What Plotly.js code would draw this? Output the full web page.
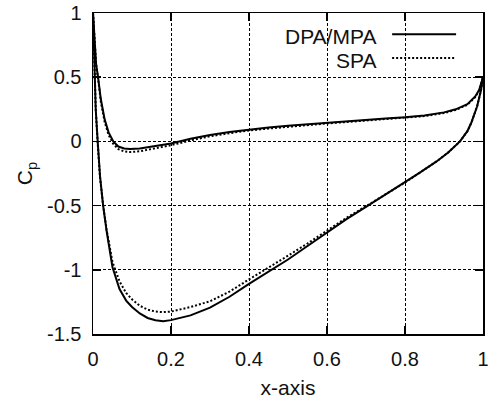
<!DOCTYPE html>
<html>
<head>
<meta charset="utf-8">
<script src="https://cdn.plot.ly/plotly-3.0.1.min.js"></script>
<style>html,body{margin:0;padding:0;background:#fff;}#chart{width:489px;height:406px;}</style>
</head>
<body>
<div id="chart"></div>
<script>
// Lower surface, DPA/MPA (solid)
const xLowerDPA = [0, 0.003, 0.007, 0.012, 0.018, 0.026, 0.035, 0.05, 0.068, 0.085, 0.1, 0.12, 0.14, 0.16, 0.18, 0.2, 0.22, 0.25, 0.3, 0.35, 0.4, 0.45, 0.5, 0.55, 0.6, 0.65, 0.7, 0.75, 0.8, 0.838, 0.88, 0.91, 0.941, 0.96, 0.97, 0.985, 0.995, 1.0];
const cpLowerDPA = [1.0, 0.6, 0.25, 0.0, -0.27, -0.5, -0.7, -0.98, -1.15, -1.24, -1.29, -1.34, -1.375, -1.393, -1.4, -1.392, -1.378, -1.355, -1.295, -1.21, -1.11, -1.015, -0.92, -0.815, -0.71, -0.605, -0.51, -0.415, -0.32, -0.243, -0.158, -0.088, 0.0, 0.08, 0.145, 0.274, 0.4, 0.5];
// Lower surface, SPA (dotted)
const xLowerSPA = [0, 0.003, 0.007, 0.012, 0.018, 0.026, 0.035, 0.05, 0.068, 0.085, 0.1, 0.12, 0.14, 0.16, 0.18, 0.2, 0.22, 0.25, 0.3, 0.35, 0.4, 0.45, 0.5, 0.55, 0.6, 0.65, 0.7, 0.75, 0.8, 0.838, 0.88, 0.91, 0.941, 0.96, 0.97, 0.985, 0.995, 1.0];
const cpLowerSPA = [1.0, 0.6, 0.25, -0.01, -0.28, -0.5, -0.69, -0.94, -1.09, -1.18, -1.23, -1.28, -1.31, -1.325, -1.33, -1.325, -1.31, -1.29, -1.245, -1.17, -1.075, -0.985, -0.89, -0.795, -0.695, -0.595, -0.505, -0.415, -0.32, -0.243, -0.158, -0.088, 0.0, 0.08, 0.145, 0.274, 0.4, 0.5];
// Upper surface, DPA/MPA (solid)
const xUpperDPA = [0, 0.004, 0.008, 0.013, 0.02, 0.03, 0.04, 0.052, 0.065, 0.08, 0.095, 0.12, 0.15, 0.2, 0.25, 0.3, 0.35, 0.4, 0.45, 0.5, 0.55, 0.6, 0.65, 0.7, 0.75, 0.8, 0.85, 0.9, 0.93, 0.96, 0.98, 0.99, 1.0];
const cpUpperDPA = [1.0, 0.75, 0.6, 0.5, 0.33, 0.17, 0.07, 0.0, -0.04, -0.055, -0.06, -0.055, -0.04, -0.016, 0.02, 0.05, 0.073, 0.093, 0.108, 0.122, 0.134, 0.145, 0.157, 0.168, 0.178, 0.188, 0.202, 0.226, 0.25, 0.29, 0.35, 0.4, 0.5];
// Upper surface, SPA (dotted)
const xUpperSPA = [0, 0.004, 0.008, 0.013, 0.02, 0.03, 0.04, 0.052, 0.065, 0.08, 0.095, 0.12, 0.15, 0.2, 0.25, 0.3, 0.35, 0.4, 0.45, 0.5, 0.55, 0.6, 0.65, 0.7, 0.75, 0.8, 0.85, 0.9, 0.93, 0.96, 0.98, 0.99, 1.0];
const cpUpperSPA = [1.0, 0.75, 0.6, 0.49, 0.31, 0.15, 0.05, -0.02, -0.06, -0.078, -0.083, -0.077, -0.06, -0.03, 0.008, 0.04, 0.064, 0.085, 0.1, 0.115, 0.128, 0.14, 0.151, 0.162, 0.172, 0.183, 0.197, 0.221, 0.245, 0.285, 0.345, 0.395, 0.5];

const xTickVals = [0, 0.2, 0.4, 0.6, 0.8, 1];
const xTickText = ["0", "0.2", "0.4", "0.6", "0.8", "1"];
const yTickVals = [-1.5, -1, -0.5, 0, 0.5, 1];
const yTickText = ["-1.5", "-1", "-0.5", "0", "0.5", "1"];
const seriesNames = ["DPA/MPA", "SPA"];

const solid = {color: "#000", width: 2, dash: "solid"};
const dotted = {color: "#000", width: 2, dash: "2px,2px"};

const traces = [
  {x: xLowerDPA, y: cpLowerDPA, mode: "lines", line: solid, name: seriesNames[0], showlegend: false},
  {x: xUpperDPA, y: cpUpperDPA, mode: "lines", line: solid, name: seriesNames[0], showlegend: false},
  {x: xLowerSPA, y: cpLowerSPA, mode: "lines", line: dotted, name: seriesNames[1], showlegend: false},
  {x: xUpperSPA, y: cpUpperSPA, mode: "lines", line: dotted, name: seriesNames[1], showlegend: false}
];

const fontFam = "Liberation Sans, Arial, sans-serif";
const txtColor = "#111";
const axisCommon = {
  showgrid: true, gridcolor: "#000", gridwidth: 1, griddash: "3px,2px",
  zeroline: false, showline: true, linecolor: "#000", linewidth: 1.5, mirror: "ticks",
  ticks: "inside", ticklen: 8, tickwidth: 1.5, tickcolor: "#000",
  tickfont: {family: fontFam, size: 20, color: txtColor}
};

const layout = {
  width: 489, height: 406,
  margin: {l: 93, r: 6, t: 13, b: 72},
  paper_bgcolor: "#fff", plot_bgcolor: "#fff",
  showlegend: false,
  xaxis: Object.assign({}, axisCommon, {
    range: [0, 1], tickmode: "array", tickvals: xTickVals, ticktext: xTickText,
    ticklabelstandoff: 6,
    title: {text: "x-axis", font: {family: fontFam, size: 21, color: txtColor}, standoff: 12}
  }),
  yaxis: Object.assign({}, axisCommon, {
    range: [-1.5, 1], tickmode: "array", tickvals: yTickVals, ticktext: yTickText,
    ticklabelstandoff: 6,
    title: {text: "C<sub>p</sub>", font: {family: fontFam, size: 21, color: txtColor}, standoff: 8}
  }),
  annotations: [
    {xref: "paper", yref: "paper", x: 0.73, y: 0.928, xanchor: "right", yanchor: "middle",
     text: seriesNames[0], showarrow: false, font: {family: fontFam, size: 21, color: txtColor}},
    {xref: "paper", yref: "paper", x: 0.73, y: 0.852, xanchor: "right", yanchor: "middle",
     text: seriesNames[1], showarrow: false, font: {family: fontFam, size: 21, color: txtColor}}
  ],
  shapes: [
    {type: "line", xref: "paper", yref: "paper", x0: 0.767, x1: 0.931, y0: 0.934, y1: 0.934, line: solid},
    {type: "line", xref: "paper", yref: "paper", x0: 0.767, x1: 0.931, y0: 0.860, y1: 0.860, line: dotted}
  ]
};

Plotly.newPlot("chart", traces, layout, {staticPlot: true, displayModeBar: false});
</script>
</body>
</html>
